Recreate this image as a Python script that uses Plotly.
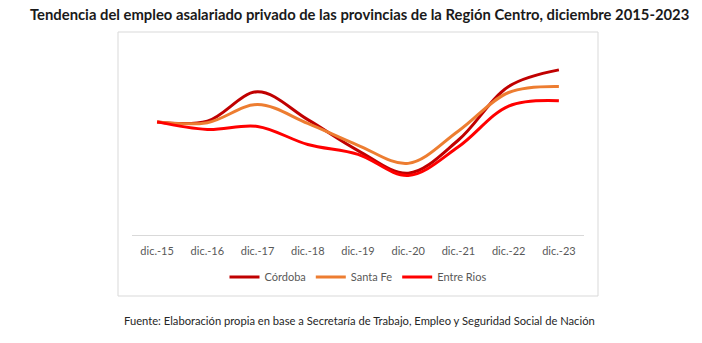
import plotly.graph_objects as go

# Índice de empleo asalariado privado (dic.-15 = 100)
periodos = ["dic.-15", "dic.-16", "dic.-17", "dic.-18", "dic.-19",
            "dic.-20", "dic.-21", "dic.-22", "dic.-23"]
cordoba = [100.0, 100.1, 104.0, 100.3, 96.2, 93.2, 97.6, 104.7, 106.9]
santa_fe = [100.0, 99.9, 102.3, 99.8, 96.9, 94.5, 98.8, 103.9, 104.7]
entre_rios = [100.0, 99.0, 99.4, 97.0, 95.7, 92.9, 96.7, 102.1, 102.8]

FONT = "Lato"
series = [
    ("Córdoba", cordoba, "#C00000"),
    ("Santa Fe", santa_fe, "#ED7D31"),
    ("Entre Rios", entre_rios, "#FF0000"),
]

fig = go.Figure()
for name, vals, color in series:
    fig.add_trace(go.Scatter(
        x=periodos, y=vals, name=name, mode="lines",
        line=dict(color=color, width=3, shape="spline", smoothing=1.0),
    ))

W, H = 702, 343
L, R, T, B = 118, 598, 32, 296  # chart frame in pixels
pw, ph = R - L, B - T

fig.update_layout(
    width=W, height=H,
    margin=dict(l=L, r=W - R, t=T, b=H - B, pad=0),
    paper_bgcolor="white", plot_bgcolor="white",
    font=dict(family=FONT, color="#595959"),
    showlegend=True,
    legend=dict(orientation="h", x=0.5, xanchor="center",
                y=(B - 277) / ph, yanchor="middle",
                font=dict(size=11, color="#595959"),
                itemwidth=30, tracegroupgap=0, bgcolor="rgba(0,0,0,0)"),
    xaxis=dict(domain=[(132 - L) / pw, (584 - L) / pw],
               range=[-0.5, 8.5], showgrid=False, zeroline=False,
               showline=True, linecolor="#D9D9D9", linewidth=1,
               ticks="outside", ticklen=6, tickcolor="rgba(0,0,0,0)",
               tickfont=dict(size=11, color="#595959")),
    yaxis=dict(domain=[(B - 235) / ph, (B - 45) / ph],
               range=[85, 110.2], showgrid=False, zeroline=False,
               showline=False, showticklabels=False, ticks=""),
    shapes=[dict(type="rect", xref="paper", yref="paper",
                 x0=0, x1=1, y0=0, y1=1,
                 line=dict(color="#D9D9D9", width=1))],
    annotations=[
        dict(text="<b>Tendencia del empleo asalariado privado de las provincias de la Región Centro, diciembre 2015-2023</b>",
             xref="paper", yref="paper", x=(359 - L) / pw, y=(B - 14) / ph,
             xanchor="center", yanchor="middle", showarrow=False,
             font=dict(size=14.8, color="#1A1A1A", family=FONT)),
        dict(text="Fuente: Elaboración propia en base a Secretaría de Trabajo, Empleo y Seguridad Social de Nación",
             xref="paper", yref="paper", x=(359 - L) / pw, y=(B - 320) / ph,
             xanchor="center", yanchor="middle", showarrow=False,
             font=dict(size=11.2, color="#262626", family=FONT)),
    ],
)

fig.write_html("out.html")
